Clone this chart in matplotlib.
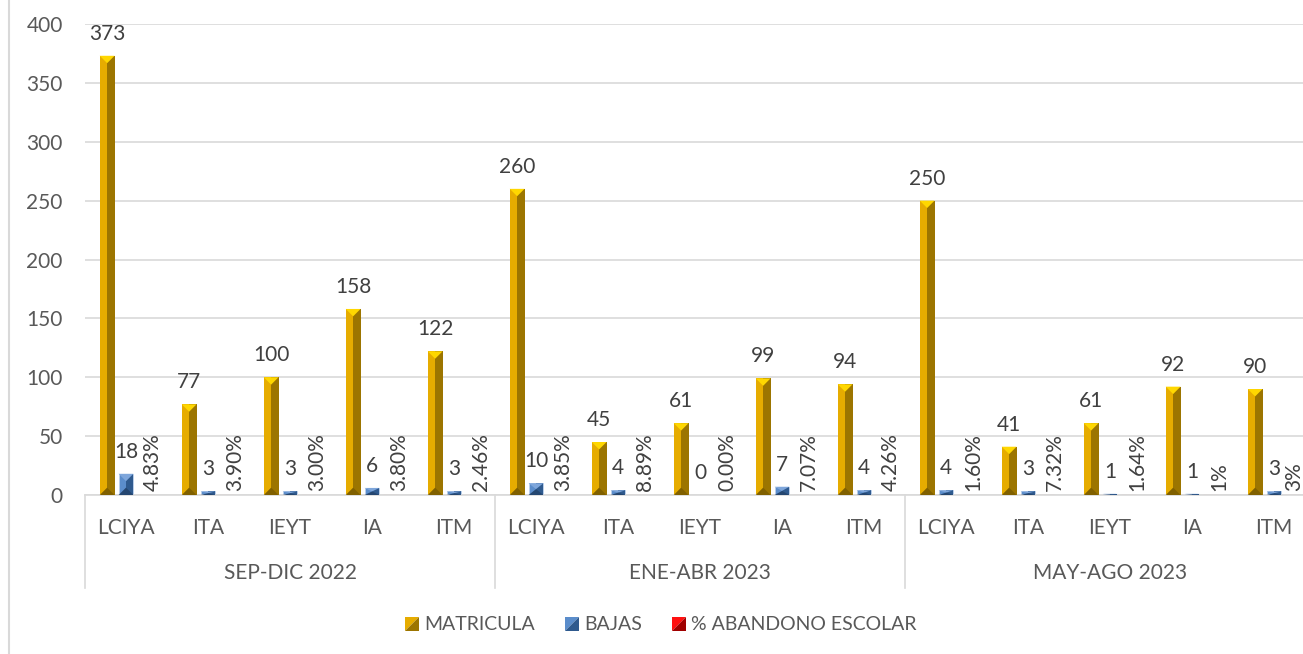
import matplotlib
matplotlib.use('Agg')
import numpy as np
import matplotlib.pyplot as plt
from matplotlib.patches import Polygon, Rectangle
from matplotlib.lines import Line2D
from matplotlib.legend_handler import HandlerBase
import matplotlib.transforms as mtransforms

plt.rcParams['font.family'] = ['Lato', 'DejaVu Sans']

# Datos
periodos = ['SEP-DIC 2022', 'ENE-ABR 2023', 'MAY-AGO 2023']
carreras = ['LCIYA', 'ITA', 'IEYT', 'IA', 'ITM']
matricula = [373, 77, 100, 158, 122, 260, 45, 61, 99, 94, 250, 41, 61, 92, 90]
bajas = [18, 3, 3, 6, 3, 10, 4, 0, 7, 4, 4, 3, 1, 1, 3]
abandono = [0.0483, 0.0390, 0.0300, 0.0380, 0.0246,
            0.0385, 0.0889, 0.0000, 0.0707, 0.0426,
            0.0160, 0.0732, 0.0164, 0.0109, 0.0333]
decimales_abandono = [2] * 13 + [0, 0]

# Colores (cara izq, cara der, bisel arriba, bisel abajo)
col_mat = ('#E6AC00', '#9C7500', '#FFD700', '#806000')
col_baj = ('#5B8DCB', '#2F5A8E', '#7EA6DB', '#244670')
gris = '#D9D9D9'
texto = '#595959'

fig = plt.figure(figsize=(13.03, 6.54), dpi=100)
ax = fig.add_axes([85 / 1303, 159 / 654, 1230 / 1303, 471 / 654])

n = len(matricula)
x = np.arange(n)
ancho = 0.18
sep = 0.23

ax.set_xlim(-0.5, n - 0.5)
ax.set_ylim(0, 400)
ax.set_yticks(range(0, 401, 50))
ax.yaxis.grid(True, color=gris, linewidth=1.2)
ax.set_axisbelow(True)
for s in ['top', 'right', 'left']:
    ax.spines[s].set_visible(False)
ax.spines['bottom'].set_color(gris)
ax.spines['bottom'].set_linewidth(1.2)
ax.set_xticks([])
ax.tick_params(axis='y', length=0, pad=16, labelsize=15, labelcolor=texto)

# unidades de datos por pixel (para el bisel de 45 grados)
fig.canvas.draw()
px_por_x = ax.transData.transform((1, 0))[0] - ax.transData.transform((0, 0))[0]
px_por_y = ax.transData.transform((0, 1))[1] - ax.transData.transform((0, 0))[1]


def biselar(barras, colores):
    for b in barras:
        x0, w, h = b.get_x(), b.get_width(), b.get_height()
        if h <= 0:
            continue
        d = min(w / 2 * px_por_x / px_por_y, h / 2)
        xm = x0 + w / 2
        ax.add_patch(Rectangle((xm, 0), w / 2, h, facecolor=colores[1], linewidth=0, zorder=3))
        ax.add_patch(Polygon([(x0, h), (x0 + w, h), (xm, h - d)], facecolor=colores[2],
                             linewidth=0, zorder=3))
        ax.add_patch(Polygon([(x0, 0), (x0 + w, 0), (xm, d)], facecolor=colores[3],
                             linewidth=0, zorder=3))


b1 = ax.bar(x - sep, matricula, ancho, color=col_mat[0], linewidth=0, zorder=2)
b2 = ax.bar(x, bajas, ancho, color=col_baj[0], edgecolor='#BDD0EA', linewidth=0.6, zorder=2)
b3 = ax.bar(x + sep, abandono, ancho, color='#FF0000', edgecolor='#F4B0B0', linewidth=1.0, zorder=2)
biselar(b1, col_mat)
biselar(b2, col_baj)

# Etiquetas de datos
for i in range(n):
    ax.annotate(str(matricula[i]), (x[i] - sep, matricula[i]), xytext=(0, 11.5),
                textcoords='offset points', ha='center', va='baseline', fontsize=15, color='#404040')
    ax.annotate(str(bajas[i]), (x[i], bajas[i]), xytext=(0, 11.5),
                textcoords='offset points', ha='center', va='baseline', fontsize=15, color='#404040')
    etiqueta = f"{abandono[i] * 100:.{decimales_abandono[i]}f}%"
    dx = 6 if i < n - 1 else 1
    ax.annotate(etiqueta, (x[i] + sep, abandono[i]), xytext=(dx, 3),
                textcoords='offset points', ha='center', va='bottom', rotation=90,
                fontsize=15, color='#404040')

# Eje de categorias en dos niveles
trans = mtransforms.blended_transform_factory(ax.transData, ax.transAxes)
etiquetas = [c for p in periodos for c in carreras]
for i, c in enumerate(etiquetas):
    ax.text(x[i], -0.070, c, transform=trans, ha='center', va='center', fontsize=15, color=texto)
for g, p in enumerate(periodos):
    centro = g * len(carreras) + (len(carreras) - 1) / 2
    ax.text(centro, -0.1656, p, transform=trans, ha='center', va='center', fontsize=15, color=texto)
for g in range(len(periodos) + 1):
    xl = g * len(carreras) - 0.5
    ax.add_line(Line2D([xl, xl], [0, -0.1975], transform=trans, color=gris,
                       linewidth=1.2, clip_on=False))

# borde del area del grafico
fig.add_artist(Line2D([8.5 / 1303, 8.5 / 1303], [0, 1], color=gris, linewidth=1.5,
                      transform=fig.transFigure))


# Leyenda con cuadros biselados
class HandlerBisel(HandlerBase):
    def __init__(self, claro, oscuro):
        super().__init__()
        self.claro = claro
        self.oscuro = oscuro

    def create_artists(self, legend, orig_handle, xdescent, ydescent, width, height, fontsize, trans):
        x0, y0 = -xdescent, -ydescent
        t1 = Polygon([(x0, y0), (x0, y0 + height), (x0 + width, y0 + height)],
                     facecolor=self.claro, linewidth=0, transform=trans)
        t2 = Polygon([(x0, y0), (x0 + width, y0), (x0 + width, y0 + height)],
                     facecolor=self.oscuro, linewidth=0, transform=trans)
        return [t1, t2]


h1, h2, h3 = Rectangle((0, 0), 1, 1), Rectangle((0, 0), 1, 1), Rectangle((0, 0), 1, 1)
leg = fig.legend([h1, h2, h3], ['MATRICULA', 'BAJAS', '% ABANDONO ESCOLAR'],
                 handler_map={h1: HandlerBisel('#E6AC00', '#9C7500'),
                              h2: HandlerBisel('#5B8DCB', '#2F5A8E'),
                              h3: HandlerBisel('#FF1010', '#A00000')},
                 loc='center', bbox_to_anchor=(661 / 1303, 1 - 625 / 654), ncol=3, frameon=False,
                 fontsize=14, handlelength=0.7, handleheight=0.7, handletextpad=0.28,
                 columnspacing=1.55, labelcolor=texto)

fig.savefig('out.png', dpi=100)
